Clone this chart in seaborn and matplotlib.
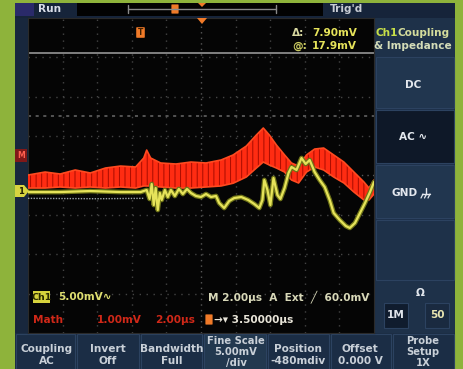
import numpy as np
import pandas as pd
import matplotlib
matplotlib.use("Agg")
import matplotlib.pyplot as plt
import seaborn as sns
from matplotlib.patches import Rectangle, Polygon, FancyBboxPatch

sns.set_theme(style="dark")
plt.rcParams['font.family'] = ['DejaVu Sans', 'Noto Sans', 'Noto Sans CJK SC', 'Liberation Sans']
plt.rcParams['hatch.linewidth'] = 0.7

# ---- acquisition settings ----
time_per_div = 2.0      # µs/div
volts_per_div = 5.0     # mV/div (Ch1)
ch1_position_div = -0.48
cursor_levels = [17.9, 10.0]   # mV, cursor a / cursor b

# ---- Ch1 waveform (µs, mV) ----
ch1_time = [-10.0, -8.14, -6.40, -4.65, -3.49, -3.14, -2.97, -2.85, -2.73, -2.62,
            -2.50, -2.38, -2.27, -2.09, -1.92, -1.74, -1.51, -1.28, -1.05, -0.81,
            -0.58, -0.29, 0.00, 0.29, 0.58, 0.87, 1.05, 1.34, 1.63, 1.92,
            2.33, 2.73, 3.08, 3.37, 3.55, 3.66, 3.84, 4.01, 4.19, 4.42,
            4.59, 4.83, 5.06, 5.23, 5.52, 5.81, 6.05, 6.28, 6.57, 6.86,
            7.15, 7.44, 7.67, 8.02, 8.37, 8.60, 8.90, 9.19, 9.48, 9.77, 10.0]
ch1_mv = [0.30, 0.30, 0.43, 0.30, 0.30, 0.56, -0.58, 1.32, -1.35, 0.81,
          -1.98, 0.18, -0.71, 0.56, -0.33, 0.56, -0.20, 0.69, 0.05, 0.69,
          0.18, -0.20, -0.33, 0.05, -0.33, -0.20, -1.09, -1.73, -0.84, -0.46,
          -0.33, -0.71, -1.22, -1.73, -0.71, 1.83, 0.56, -1.35, 2.08, -0.08,
          -0.58, 0.81, 2.72, 3.48, 3.10, 4.62, 3.86, 4.37, 2.84, 1.83,
          0.94, -0.71, -2.36, -3.25, -4.01, -4.26, -3.63, -2.36, -1.09, 0.30, 1.57]

# ---- reference waveform (µs, mV) ----
ref_time = [-10.0, -6.0, -3.3]
ref_mv = [-0.50, -0.55, -0.50]

# ---- Math waveform envelope (µs, display mV) ----
math_time = [-10.0, -9.01, -8.14, -7.27, -6.40, -5.52, -4.65, -3.78, -3.31, -3.14,
             -2.91, -2.33, -1.45, -0.58, 0.29, 1.16, 1.86, 2.62, 3.20, 3.60,
             3.95, 4.36, 4.83, 5.23, 5.64, 6.10, 6.57, 7.09, 7.67, 8.26,
             8.84, 9.42, 9.71, 10.0]
math_upper = [2.46, 2.84, 2.59, 3.10, 2.72, 3.35, 3.60, 3.48, 4.62, 5.63,
              4.62, 3.99, 3.86, 4.11, 3.99, 4.37, 5.01, 6.14, 7.54, 8.43,
              7.54, 6.27, 5.01, 3.99, 3.60, 5.01, 5.76, 5.89, 5.01, 4.11,
              2.84, 1.57, 0.81, 1.83]
math_lower = [0.81, 0.81, 0.94, 0.81, 0.94, 0.81, 0.94, 0.81, 1.07, 1.07,
              1.07, 0.94, 0.81, 0.81, 0.94, 1.07, 1.42, 2.21, 3.35, 4.11,
              3.73, 3.35, 2.84, 1.83, 1.45, 2.84, 3.48, 3.10, 2.21, 1.45,
              0.30, -0.71, -0.71, 0.05]

bottom_buttons = [("Coupling", "AC"), ("Invert", "Off"), ("Bandwidth", "Full"),
                  ("Fine Scale", "5.00mV", "/div"), ("Position", "-480mdiv"),
                  ("Offset", "0.000 V"), ("Probe", "Setup", "1X")]
side_buttons = ["DC", "AC \u223f", "GND"]

# ---- colours ----
GREEN = "#8eb33b"
NAVY = "#1c2d44"
NAVY_DARK = "#0e1828"
BLACK = "#050505"
YELLOW = "#e6e35a"
CREAM = "#d8d8b8"
TXT = "#c9d0d8"
ORANGE = "#f07a28"
RED = "#ff2c12"

W, H = 463, 369
fig = plt.figure(figsize=(W / 100, H / 100), dpi=100)
fig.patch.set_facecolor(GREEN)

bg = fig.add_axes([0, 0, 1, 1])
bg.set_xlim(0, W); bg.set_ylim(H, 0); bg.axis('off')

def rect(ax, x0, y0, x1, y1, **kw):
    ax.add_patch(Rectangle((x0, y0), x1 - x0, y1 - y0, **kw))

# instrument screen
rect(bg, 15, 3, 455, H, facecolor=NAVY, edgecolor='none')
rect(bg, 15, 3, 455, 18, facecolor="#16243a", edgecolor='none')
rect(bg, 15, 3, 34, 16, facecolor="#2a2a6a", edgecolor='none')
rect(bg, 77, 3, 323, 16, facecolor="#020202", edgecolor='none')
rect(bg, 15, 18, 28, 333, facecolor="#18273d", edgecolor='none')

# side menu
rect(bg, 374, 18, 455, 333, facecolor="#1e3149", edgecolor='none')
for y0, y1, fc in [(57, 108, "#21364f"), (110, 163, NAVY_DARK), (165, 218, "#21364f"),
                   (220, 280, "#1e3149")]:
    rect(bg, 376, y0, 454, y1, facecolor=fc, edgecolor="#2c4260", lw=0.8)
rect(bg, 384, 303, 408, 328, facecolor="#101c2e", edgecolor="#2c4260", lw=0.8)
rect(bg, 425, 303, 449, 328, facecolor="#1a2a40", edgecolor="#2c4260", lw=0.8)

# bottom menu row
edges = [15, 76, 140, 203, 267, 330, 392, 455]
for i in range(7):
    fc = "#22384f" if i == 3 else "#1b2d45"
    rect(bg, edges[i] + 1, 334, edges[i + 1] - 1, H, facecolor=fc, edgecolor="#2c4260", lw=0.8)

# ---- graticule axes ----
gx0, gy0, gx1, gy1 = 28, 18, 374, 333
gax = fig.add_axes([gx0 / W, (H - gy1) / H, (gx1 - gx0) / W, (gy1 - gy0) / H])
gax.set_facecolor(BLACK)
center_mv = -ch1_position_div * volts_per_div
gax.set_xlim(-5 * time_per_div, 5 * time_per_div)
gax.set_ylim(center_mv - 4 * volts_per_div, center_mv + 4 * volts_per_div)
gax.set_xticks([]); gax.set_yticks([])
for s in gax.spines.values():
    s.set_color("#2a2a2a"); s.set_linewidth(0.8)

dot = dict(color="#444444", lw=1.0, ls=(0, (1, 4)), zorder=1)
for k in range(-4, 5):
    if k != 0:
        gax.axvline(k * time_per_div, **dot)
for k in range(-3, 4):
    if k != 0:
        gax.axhline(center_mv + k * volts_per_div, **dot)
gax.axvline(0, color="#585858", lw=1.0, ls=(0, (1, 3)), zorder=1)
gax.axhline(center_mv, color="#585858", lw=1.0, ls=(0, (1, 3)), zorder=1)

# cursors
gax.axhline(cursor_levels[0], color="#8a8a8a", lw=1.3, zorder=2)
gax.axhline(cursor_levels[1], color="#6a6a6a", lw=1.1, ls=(0, (2, 3)), zorder=2)

# Math waveform
gax.fill_between(math_time, math_lower, math_upper, facecolor=RED,
                 edgecolor="#a80c00", hatch="|||", linewidth=0, zorder=3)
math_df = pd.DataFrame({"t": math_time + math_time,
                        "v": math_upper + math_lower,
                        "edge": ["upper"] * len(math_time) + ["lower"] * len(math_time)})
sns.lineplot(data=math_df, x="t", y="v", units="edge", estimator=None, sort=False,
             color="#ff4a20", lw=1.2, ax=gax, legend=False, zorder=4)

# reference and Ch1 traces
ref_df = pd.DataFrame({"t": ref_time, "v": ref_mv})
sns.lineplot(data=ref_df, x="t", y="v", estimator=None, sort=False, color="#9aa0a8",
             lw=1.0, ls=(0, (1, 1)), ax=gax, legend=False, zorder=5)
ch1_df = pd.DataFrame({"t": ch1_time, "v": ch1_mv})
sns.lineplot(data=ch1_df, x="t", y="v", estimator=None, sort=False, color="#6f7418",
             lw=3.4, ax=gax, legend=False, zorder=6)
sns.lineplot(data=ch1_df, x="t", y="v", estimator=None, sort=False, color=YELLOW,
             lw=1.6, ax=gax, legend=False, zorder=7)
gax.set_xlabel(""); gax.set_ylabel("")

# ---- overlay: texts and markers ----
ov = fig.add_axes([0, 0, 1, 1], zorder=5)
ov.set_xlim(0, W); ov.set_ylim(H, 0); ov.axis('off'); ov.patch.set_alpha(0)

fs = 7.6
bold = dict(fontweight='bold', fontsize=fs)

ov.text(38, 9.5, "Run", color="#d8dce8", ha='left', va='center', **bold)
ov.text(330, 9.5, "Trig'd", color="#c8ccd4", ha='left', va='center', **bold)
ov.plot([128, 276], [9, 9], color="#8a8a8a", lw=1.0)
ov.plot([128, 128], [5, 13], color="#8a8a8a", lw=1.0)
ov.plot([276, 276], [5, 13], color="#8a8a8a", lw=1.0)
ov.add_patch(FancyBboxPatch((172, 5), 6, 8, boxstyle="round,pad=0.6", fc=ORANGE, ec='none'))
ov.add_patch(Polygon([[198, 3], [206, 3], [202, 7]], closed=True, fc=ORANGE, ec='none'))
ov.add_patch(Polygon([[197, 18], [207, 18], [202, 24]], closed=True, fc=ORANGE, ec='none'))

# trigger-position icon in graticule
ov.add_patch(FancyBboxPatch((137, 28), 7, 9, boxstyle="round,pad=0.8", fc=ORANGE, ec='none'))
ov.text(140.5, 32.5, "T", color="#402000", ha='center', va='center', fontsize=5.5, fontweight='bold')

# cursor readouts
ov.text(292, 33, "\u0394:", color="#d8d8a0", ha='left', va='center', **bold)
ov.text(357, 33, "7.90mV", color=YELLOW, ha='right', va='center', **bold)
ov.text(292, 46, "@:", color="#c8c860", ha='left', va='center', **bold)
ov.text(357, 46, "17.9mV", color=YELLOW, ha='right', va='center', **bold)

# channel markers on the left
ov.add_patch(Polygon([[15, 185], [24, 185], [29, 191], [24, 197], [15, 197]], closed=True,
                     fc="#d8d440", ec='none'))
ov.text(21, 191, "1", color="#202000", ha='center', va='center', fontsize=6, fontweight='bold')
ov.add_patch(Rectangle((15, 149), 12, 13, fc="#801818", ec='none'))
ov.text(21, 155.5, "M", color="#ff6050", ha='center', va='center', fontsize=5.5, fontweight='bold')

# side menu text
ov.text(376, 33, "Ch1", color="#c8e048", ha='left', va='center', **bold)
ov.text(397, 33, "Coupling", color="#d4dc9c", ha='left', va='center', **bold)
ov.text(413, 46, "& Impedance", color="#d4dcb8", ha='center', va='center', **bold)
side_x = [413, 413, 405]
for txt, xc, yc in zip(side_buttons, side_x, [85, 137, 193]):
    ov.text(xc, yc, txt, color="#e4e8ee", ha='center', va='center', **bold)
# ground symbol after "GND"
gcol = "#e4e8ee"
ov.plot([426, 426], [188, 194], color=gcol, lw=1.0)
ov.plot([422, 430], [194, 194], color=gcol, lw=1.0)
for xs in (423, 426.5, 430):
    ov.plot([xs, xs - 2], [194, 198], color=gcol, lw=0.9)
ov.text(420, 293, "\u03a9", color="#e4e8ee", ha='center', va='center', **bold)
ov.text(396, 315.5, "1M", color="#dfe3ea", ha='center', va='center', **bold)
ov.text(437, 315.5, "50", color="#e8e4b0", ha='center', va='center', **bold)

# readouts under the waveform
ov.add_patch(Rectangle((33, 291), 17, 12, fc="#d6d23c", ec='none'))
ov.text(41.5, 297, "Ch1", color="#2a2a00", ha='center', va='center', fontsize=6.8, fontweight='bold')
ov.text(58, 297, "5.00mV\u223f", color="#dede70", ha='left', va='center', **bold)
ov.text(208, 297, "M 2.00\u00b5s  A  Ext  \u2571  60.0mV", color=CREAM, ha='left', va='center', **bold)
ov.text(33, 320, "Math", color="#d02818", ha='left', va='center', **bold)
ov.text(97, 320, "1.00mV", color="#d02818", ha='left', va='center', **bold)
ov.text(155, 320, "2.00\u00b5s", color="#d02818", ha='left', va='center', **bold)
ov.add_patch(FancyBboxPatch((206, 315), 6, 9, boxstyle="round,pad=0.6", fc=ORANGE, ec='none'))
ov.text(214, 320, "\u2192\u25be 3.50000\u00b5s", color="#e8e4d8", ha='left', va='center', **bold)

# bottom menu labels
centers = [47, 108, 172, 236, 298, 360, 423]
for lines, xc in zip(bottom_buttons, centers):
    if len(lines) == 2:
        ys = [349.5, 361.5]
        size = fs
    else:
        ys = [341, 352, 363]
        size = 7.2
    for line, y in zip(lines, ys):
        ov.text(xc, y, line, color=TXT, ha='center', va='center',
                fontweight='bold', fontsize=size)

fig.savefig("out.png", dpi=100, facecolor=GREEN)
